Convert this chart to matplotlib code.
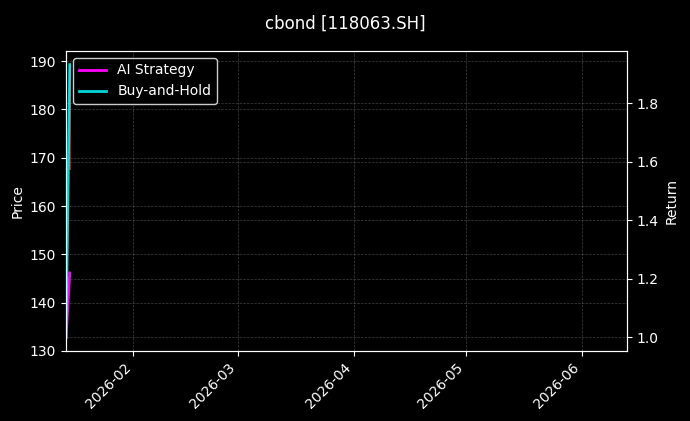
import pandas as pd
import matplotlib
matplotlib.use("Agg")
import matplotlib.pyplot as plt
import matplotlib.dates as mdates

# ------------------------------------------------------------------
# donnees (2 seances seulement)
# ------------------------------------------------------------------
dates      = pd.to_datetime(["2026-01-14", "2026-01-15"])
prix_bas   = [132.8, 167.5]
prix_haut  = [139.0, 189.3]
ret_ai     = [1.00, 1.22]
ret_bh     = [1.00, 1.932]

debut = pd.Timestamp("2026-01-14")
fin   = debut + pd.Timedelta(days=150)

plt.style.use("dark_background")
fig, ax1 = plt.subplots(figsize=(6.9, 4.21), dpi=100)
fig.subplots_adjust(left=0.0957, right=0.9087, top=0.879, bottom=0.1663)

# prix (barres haut/bas)
ax1.vlines(dates, prix_bas, prix_haut, color="#c0141c", linewidth=1.5)
ax1.set_ylabel("Price")
ax1.grid(True, linestyle="--", linewidth=0.5, color="gray", alpha=0.5)

ax2 = ax1.twinx()
ax2.plot(dates, ret_ai, color="#ff00ff", linewidth=2, label="AI Strategy")
ax2.plot(dates, ret_bh, color="#00ffff", linewidth=2, alpha=0.85, label="Buy-and-Hold")
ax2.set_ylabel("Return")
ax2.grid(True, linestyle="--", linewidth=0.5, color="gray", alpha=0.5)

ax1.set_xlim(debut, fin)
ax1.xaxis.set_major_locator(mdates.MonthLocator())
ax1.xaxis.set_major_formatter(mdates.DateFormatter("%Y-%m"))
plt.setp(ax1.get_xticklabels(), rotation=45, ha="right")

leg = ax2.legend(loc="upper left", facecolor="black", edgecolor="white")

fig.suptitle("cbond [118063.SH]", fontsize=12, y=0.965)
fig.savefig("out.png", dpi=100)
plt.close()
